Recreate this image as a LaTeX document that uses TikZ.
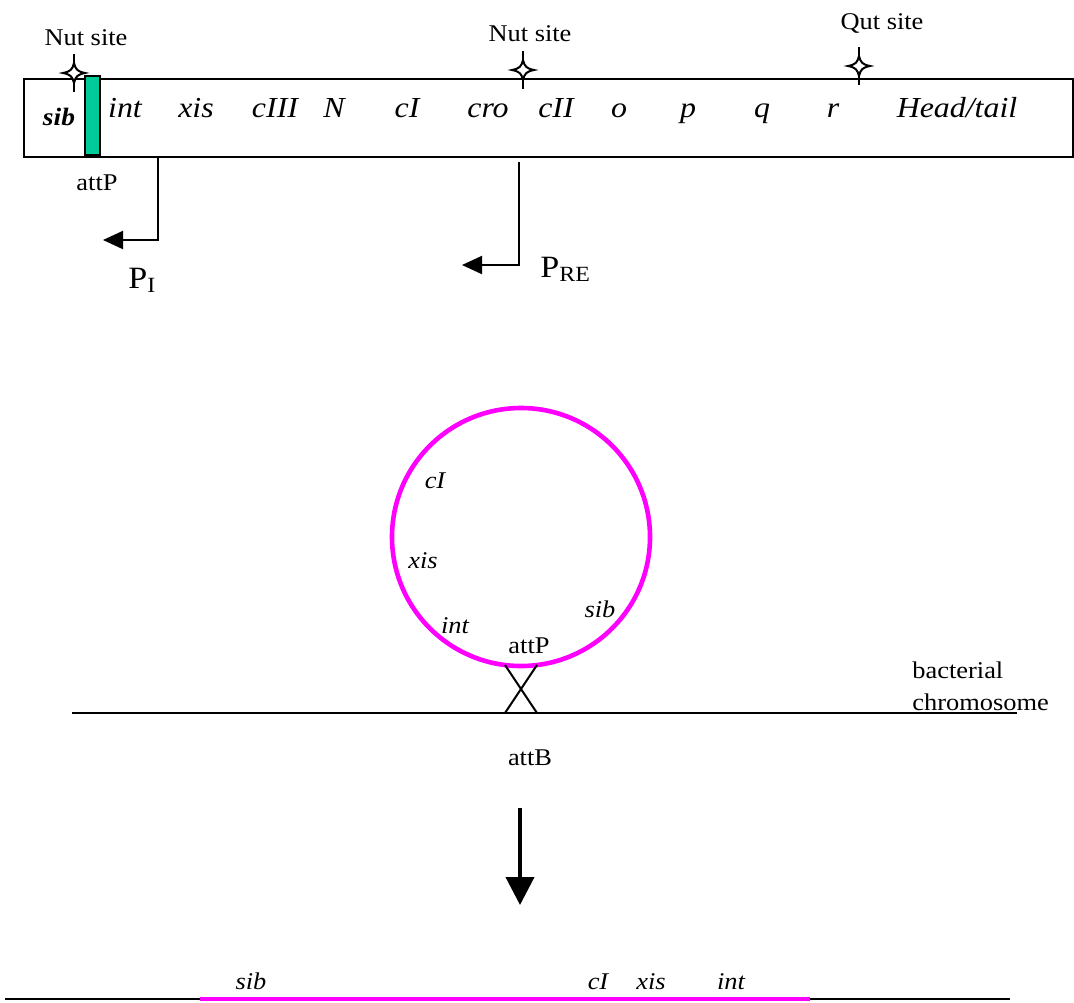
\documentclass[tikz,border=0pt]{standalone}
\usepackage{fontspec}
\setmainfont{Liberation Serif}[FakeStretch=1.1]
\usetikzlibrary{arrows.meta}

\definecolor{attgreen}{RGB}{0,204,153}
\definecolor{loopmag}{RGB}{255,0,255}

\def\genefont{\fontsize{14.5}{17}\selectfont\itshape}
\def\labfont{\fontsize{12}{16}\selectfont}

\tikzset{
  site star/.pic={
    \draw[line width=1pt] (0,-19) -- (0,19);
    \filldraw[fill=white,line width=1pt] (0,-10) .. controls (1.5,-3.5) and (3.5,-1.5) .. (11,0)
      .. controls (3.5,1.5) and (1.5,3.5) .. (0,10) .. controls (-1.5,3.5) and (-3.5,1.5) .. (-11,0)
      .. controls (-3.5,-1.5) and (-1.5,-3.5) .. cycle;
  }
}

\begin{document}
\begin{tikzpicture}[x=0.5pt,y=-0.5pt]
    \tikzstyle{gene}=[font=\genefont,anchor=base,inner sep=0pt]
    \tikzstyle{loop gene}=[font=\labfont\itshape,anchor=base,inner sep=0pt]
    \tikzstyle{lab}=[font=\labfont,anchor=base,inner sep=0pt]
    \tikzstyle{promoter}=[line width=1pt,-{Triangle[length=10pt,width=9pt]}]
    \tikzstyle{prom label}=[font=\fontsize{15.5}{18}\selectfont,anchor=base west,inner sep=0pt]

    \useasboundingbox (0,0) rectangle (1074,1002);

    % Draw the phage genome
    \draw[line width=1pt] (24,79) rectangle (1073,157);
    \filldraw[fill=attgreen,line width=1pt] (85,76) rectangle (100,155);

    % Nut and Qut sites
    \pic at (74,73) {site star};
    \pic at (523,70) {site star};
    \pic at (859,66) {site star};
    \node[lab] (nut1) at (86,45) {Nut site};
    \node[lab] (nut2) at (530,41) {Nut site};
    \node[lab] (qut) at (882,29) {Qut site};

    % Genes in the box
    \node[gene,font=\fontsize{12.5}{14}\selectfont\bfseries\itshape] (G-sib) at (59,125) {sib};
    \foreach \gene/\x in {int/125,xis/196,cIII/275,N/334,cI/407,cro/488,cII/556,o/619,p/688,q/762,r/833}
        \node[gene] (G-\gene) at (\x,117) {\gene};
    \node[gene] (G-head) at (957,117) {Head/tail};

    \node[lab] (attP1) at (97,190) {attP};

    % Promoters
    \coordinate (PI-top) at (158,157);
    \coordinate (PI-tip) at (103,240);
    \draw[promoter] (PI-top) |- (PI-tip);
    \node[prom label] (PI) at (128,288) {P\textsubscript{I}};

    \coordinate (PRE-top) at (519,162);
    \coordinate (PRE-tip) at (462,265);
    \draw[promoter] (PRE-top) |- (PRE-tip);
    \node[prom label] (PRE) at (540,277) {P\textsubscript{RE}};

    % Circular phage and the chromosome
    \draw[loopmag,line width=2.3pt] (521,537) circle (129);
    \node[loop gene] (C-cI) at (435,488) {cI};
    \node[loop gene] (C-xis) at (423,568) {xis};
    \node[loop gene] (C-int) at (455,633) {int};
    \node[loop gene] (C-sib) at (600,617) {sib};
    \node[lab] (attP2) at (529,653) {attP};

    \coordinate (chr-L) at (72,713);
    \coordinate (chr-R) at (1017,713);
    \draw[line width=1pt] (chr-L) -- (chr-R);
    \draw[line width=1pt] (505,665) -- (537,713) (537,665) -- (505,713);
    \node[lab,anchor=base west] (bact) at (912,678) {bacterial};
    \node[lab,anchor=base west] (chrom) at (912,710) {chromosome};
    \node[lab] (attB) at (530,765) {attB};

    % Integration
    \coordinate (down-top) at (520,808);
    \coordinate (down-tip) at (520,905);
    \draw[line width=2pt,-{Triangle[length=14pt,width=14pt]}] (down-top) -- (down-tip);

    % Integrated prophage
    \coordinate (pro-L) at (5,999);
    \coordinate (pro-R) at (1010,999);
    \coordinate (mag-L) at (200,999);
    \coordinate (mag-R) at (810,999);
    \draw[line width=1pt] (pro-L) -- (pro-R);
    \draw[loopmag,line width=1.6pt] (mag-L) -- (mag-R);
    \foreach \gene/\x in {sib/251,cI/598,xis/651,int/731}
        \node[loop gene] (B-\gene) at (\x,989) {\gene};
\end{tikzpicture}
\end{document}
